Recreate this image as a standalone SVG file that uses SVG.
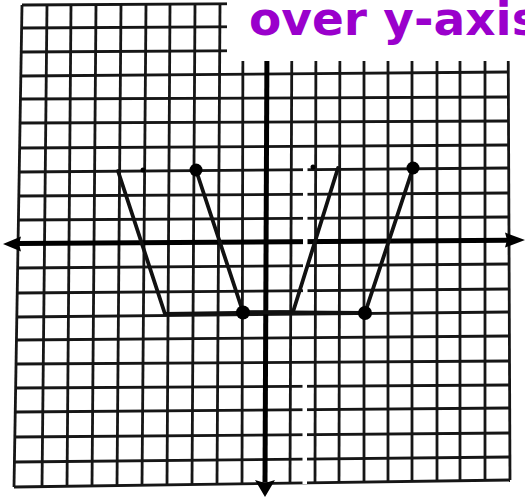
<svg xmlns="http://www.w3.org/2000/svg" width="525" height="501" viewBox="0 0 525 501">
<style>
.g line{stroke:#161616;stroke-width:2.8;stroke-linecap:butt}
.ax{stroke:#000;stroke-width:5;fill:none}
.head{fill:#000}
.cv{stroke:#111;stroke-width:3.8;fill:none;stroke-linejoin:round;stroke-linecap:round}
.dot{fill:#000}
.gap{fill:#fff}
.title{font-family:"Comic Sans MS","DejaVu Sans",sans-serif;font-weight:bold;font-size:47px;fill:#9a00cc}
</style>
<rect width="525" height="501" fill="#fff"/>
<g id="grid" class="g">
<line x1="22" y1="5" x2="14" y2="487"/>
<line x1="47" y1="5" x2="42" y2="486.6"/>
<line x1="71" y1="5" x2="67" y2="486.3"/>
<line x1="96" y1="5" x2="92" y2="486"/>
<line x1="121" y1="5" x2="117" y2="485.6"/>
<line x1="146" y1="5" x2="142" y2="485.3"/>
<line x1="170" y1="5" x2="167" y2="484.9"/>
<line x1="195" y1="5" x2="192" y2="484.6"/>
<line x1="220" y1="5" x2="217" y2="484.2"/>
<line x1="243" y1="5" x2="242" y2="483.9"/>
<line x1="292" y1="4" x2="290" y2="483.2"/>
<line x1="316" y1="4" x2="315" y2="482.8"/>
<line x1="340" y1="4" x2="339" y2="482.5"/>
<line x1="364" y1="4" x2="364" y2="482.1"/>
<line x1="388" y1="4" x2="388" y2="481.8"/>
<line x1="412" y1="3" x2="412" y2="481.4"/>
<line x1="437" y1="3" x2="437" y2="481"/>
<line x1="460" y1="3" x2="460" y2="480.7"/>
<line x1="485" y1="3" x2="485" y2="480.3"/>
<line x1="508" y1="2" x2="510" y2="480"/>
<line x1="22" y1="5" x2="508" y2="2"/>
<line x1="21.6" y1="28" x2="508.1" y2="25"/>
<line x1="21.2" y1="52" x2="508.2" y2="49"/>
<line x1="20.8" y1="76" x2="508.3" y2="72"/>
<line x1="20.4" y1="99" x2="508.4" y2="97"/>
<line x1="20" y1="123" x2="508.5" y2="121"/>
<line x1="19.6" y1="148" x2="508.6" y2="145"/>
<line x1="19.2" y1="172" x2="508.7" y2="168"/>
<line x1="18.8" y1="196" x2="508.8" y2="193"/>
<line x1="18.4" y1="220" x2="508.9" y2="217"/>
<line x1="17.6" y1="268" x2="509.1" y2="264"/>
<line x1="17.2" y1="293" x2="509.2" y2="289"/>
<line x1="16.8" y1="317" x2="509.3" y2="312"/>
<line x1="16.4" y1="340" x2="509.4" y2="336"/>
<line x1="16" y1="364" x2="509.5" y2="361"/>
<line x1="15.6" y1="388" x2="509.6" y2="385"/>
<line x1="15.2" y1="412" x2="509.7" y2="408"/>
<line x1="14.8" y1="437" x2="509.8" y2="433"/>
<line x1="14.4" y1="462" x2="509.9" y2="457"/>
<line x1="14" y1="487" x2="510" y2="480"/>
</g>
<g id="axes">
<line class="ax" x1="18" y1="243.5" x2="508" y2="240.2"/>
<line class="ax" x1="267" y1="40" x2="265" y2="482"/>
<polygon class="head" points="3,244 21,236.5 19,244 21,251.5"/>
<polygon class="head" points="525,240 505,232.5 507,240 505,247.5"/>
<polygon class="head" points="265,497 255,480 265,483 275,480"/>
</g>
<g id="scan-gaps">
<rect class="gap" x="303" y="160" width="4.5" height="90"/>
<rect class="gap" x="303" y="258" width="4.5" height="10"/>
<rect class="gap" x="303" y="285" width="4.5" height="8"/>
<rect class="gap" x="302.5" y="378" width="4.5" height="106"/>
</g>
<g id="connectors">
<polyline id="reflected" class="cv" points="118,171 165,314 293,312 338,168"/>
<polyline id="original" class="cv" points="196,170 243,312 365,313 413,168"/>
</g>
<g id="points">
<circle class="dot" cx="196" cy="170" r="6.5"/>
<circle class="dot" cx="243" cy="312.5" r="7"/>
<circle class="dot" cx="365" cy="313" r="7"/>
<circle class="dot" cx="413" cy="168" r="6.5"/>
<circle class="dot" cx="143" cy="170" r="2.5"/>
<circle class="dot" cx="313" cy="167" r="2.5"/>
</g>
<g id="label">
<rect x="227" y="0" width="298" height="61" fill="#fff"/>
<text class="title" x="249" y="35">over y-axis</text>
</g>
</svg>
